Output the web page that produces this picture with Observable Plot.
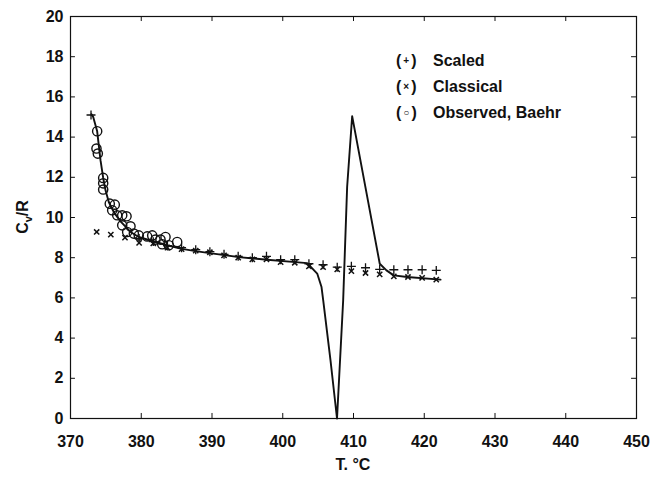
<!DOCTYPE html>
<html>
<head>
<meta charset="utf-8">
<script src="https://cdn.jsdelivr.net/npm/d3@7"></script>
<script src="https://cdn.jsdelivr.net/npm/@observablehq/plot@0.6"></script>
<style>
  body { margin: 0; background: #fff; }
  #chart { width: 653px; height: 481px; }
  svg text { font-family: "Liberation Sans", Arial, Helvetica, sans-serif; }
</style>
</head>
<body>
<div id="chart"></div>
<script>
// Heat capacity Cv/R of water near the critical point

// Axis ticks
const xTicks = [370, 380, 390, 400, 410, 420, 430, 440, 450];
const yTicks = [0, 2, 4, 6, 8, 10, 12, 14, 16, 18, 20];

// Smooth curve (temperature °C, Cv/R)
const curveT = [372.97, 373.21, 373.77, 374.24, 374.62, 374.95, 375.41, 376.12, 377.07, 378.48,
                379.65, 381.55, 383.67, 385.55, 387.67, 389.69, 393.79, 397.8, 401.8, 403.46,
                404.87, 405.48, 405.72, 406.75, 407.67, 408.54, 409.1, 409.81, 413.71, 414.66,
                415.69, 417.58, 422.3];
const curveV = [15.14, 15.0, 14.29, 12.85, 11.97, 11.35, 10.77, 10.27, 9.81, 9.28,
                9.03, 8.83, 8.62, 8.45, 8.33, 8.23, 8.03, 7.90, 7.78, 7.73,
                7.21, 6.54, 5.88, 2.89, 0.0, 5.88, 11.52, 15.04, 7.70, 7.37,
                7.12, 7.04, 6.91];

// Scaled (+)
const scaledT = [372.9, 379.7, 381.7, 383.7, 385.7, 387.7, 389.7, 391.7, 393.7, 395.7, 397.7,
                 399.7, 401.7, 403.7, 405.7, 407.7, 409.7, 411.7, 413.7, 415.7, 417.7, 419.7, 421.7];
const scaledV = [15.1, 8.95, 8.8, 8.6, 8.5, 8.4, 8.3, 8.17, 8.07, 8.0, 8.07,
                 7.9, 7.9, 7.7, 7.65, 7.53, 7.57, 7.5, 7.42, 7.4, 7.4, 7.4, 7.37];

// Classical (x)
const classicalT = [373.7, 375.7, 377.7, 379.7, 381.7, 383.7, 385.7, 387.7, 389.7, 391.7, 393.7,
                    395.7, 397.7, 399.7, 401.7, 403.7, 405.7, 407.7, 409.7, 411.7, 413.7, 415.7,
                    417.7, 419.7, 421.7];
const classicalV = [9.28, 9.15, 9.0, 8.74, 8.71, 8.5, 8.43, 8.35, 8.27, 8.12, 8.0,
                    7.92, 7.92, 7.78, 7.75, 7.57, 7.53, 7.42, 7.33, 7.24, 7.17, 7.07,
                    7.04, 7.0, 6.91];

// Observed, Baehr (o)
const observedT = [373.77, 373.67, 373.86, 374.62, 374.62, 374.62, 375.55, 376.26, 375.89, 376.6,
                   377.31, 377.92, 377.31, 378.48, 378.01, 378.95, 379.65, 380.84, 381.55, 382.01,
                   382.72, 383.43, 382.96, 383.89, 385.08];
const observedV = [14.29, 13.43, 13.18, 11.97, 11.7, 11.39, 10.69, 10.64, 10.36, 10.11,
                   10.11, 10.06, 9.61, 9.56, 9.28, 9.2, 9.11, 9.06, 9.11, 8.9,
                   8.9, 9.03, 8.67, 8.62, 8.78];

const zip = (xs, ys) => xs.map((x, i) => ({x, y: ys[i]}));
const curve = zip(curveT, curveV);
const scaled = zip(scaledT, scaledV);
const classical = zip(classicalT, classicalV);
const observed = zip(observedT, observedV);

const ink = "#111";
const tickLenX = 0.7;   // in °C
const tickLenY = 0.25;  // in Cv/R units

const svg = Plot.plot({
  width: 653,
  height: 481,
  marginLeft: 70,
  marginRight: 17,
  marginTop: 16,
  marginBottom: 63,
  style: {fontFamily: "'Liberation Sans', Arial, Helvetica, sans-serif", background: "#fff"},
  x: {domain: [370, 450]},
  y: {domain: [0, 20]},
  marks: [
    Plot.frame({stroke: ink, strokeWidth: 1.2}),
    // inward tick marks on all four sides
    Plot.ruleX(xTicks, {x: d => d, y1: 0, y2: tickLenY, stroke: ink}),
    Plot.ruleX(xTicks, {x: d => d, y1: 20 - tickLenY, y2: 20, stroke: ink}),
    Plot.ruleY(yTicks, {y: d => d, x1: 370, x2: 370 + tickLenX, stroke: ink}),
    Plot.ruleY(yTicks, {y: d => d, x1: 450 - tickLenX, x2: 450, stroke: ink}),
    Plot.axisX(xTicks, {tickSize: 0, tickPadding: 17, fontSize: 16, fontWeight: "bold",
                        fill: ink, label: null}),
    Plot.axisY(yTicks, {tickSize: 0, tickPadding: 7, fontSize: 16, fontWeight: "bold",
                        fill: ink, label: null}),
    Plot.line(curve, {x: "x", y: "y", stroke: ink, strokeWidth: 1.9}),
    Plot.dot(observed, {x: "x", y: "y", r: 4.6, stroke: ink, strokeWidth: 1.4, fill: "none"}),
    Plot.dot(classical, {x: "x", y: "y", symbol: "times", r: 2.5, stroke: ink, strokeWidth: 1.5}),
    Plot.dot(scaled, {x: "x", y: "y", symbol: "plus", r: 3, stroke: ink, strokeWidth: 1.3})
  ]
});

document.getElementById("chart").append(svg);

const root = d3.select(svg);

// x-axis title
root.append("text")
  .attr("x", 353).attr("y", 470)
  .attr("text-anchor", "middle")
  .attr("font-size", 16).attr("font-weight", "bold").attr("fill", ink)
  .text("T. °C");

// y-axis title with subscript
const yt = root.append("text")
  .attr("transform", "translate(28,217) rotate(-90)")
  .attr("text-anchor", "middle")
  .attr("font-size", 16).attr("font-weight", "bold").attr("fill", ink);
yt.append("tspan").text("C");
yt.append("tspan").attr("font-size", 11).attr("dy", 4).text("v");
yt.append("tspan").attr("dy", -4).text("/R");

// legend
const legendRows = [
  {sym: "+", label: "Scaled"},
  {sym: "×", label: "Classical"},
  {sym: "○", label: "Observed, Baehr"}
];
legendRows.forEach((row, i) => {
  const y = 66 + i * 26;
  const key = root.append("text")
    .attr("x", 396).attr("y", y)
    .attr("text-anchor", "start")
    .attr("font-size", 16).attr("font-weight", "bold").attr("fill", ink);
  key.append("tspan").text("(");
  key.append("tspan").attr("font-size", 10).attr("dy", -2).attr("dx", 2).text(row.sym);
  key.append("tspan").attr("dy", 2).attr("dx", 2).text(")");
  root.append("text")
    .attr("x", 433).attr("y", y)
    .attr("text-anchor", "start")
    .attr("font-size", 16).attr("font-weight", "bold").attr("fill", ink)
    .text(row.label);
});
</script>
</body>
</html>
